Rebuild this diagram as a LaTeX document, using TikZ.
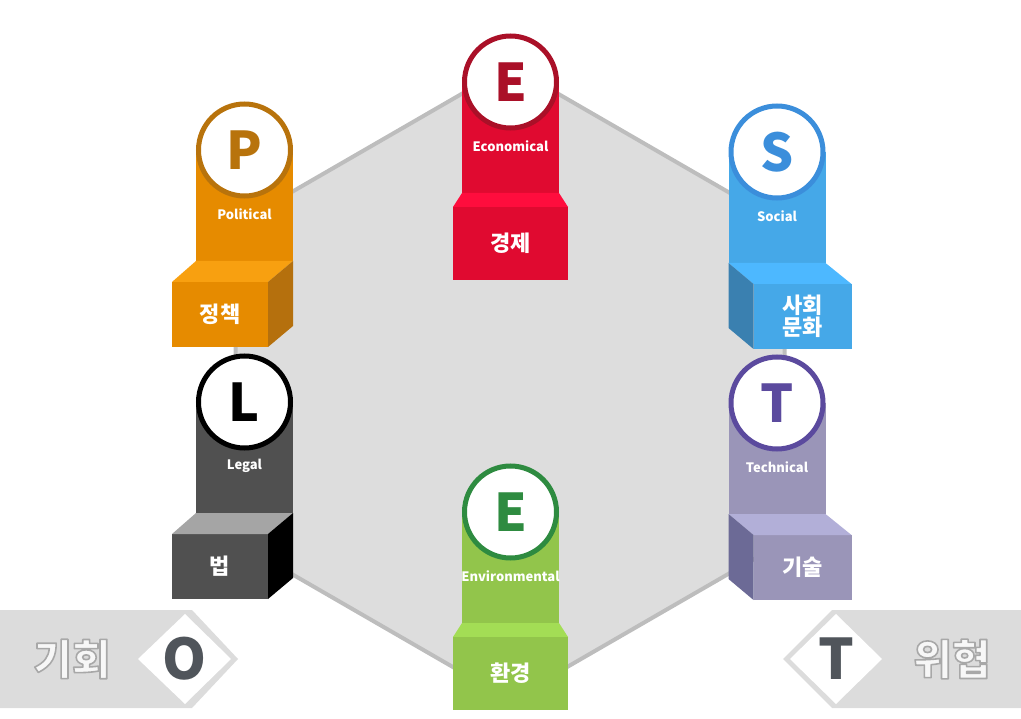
\documentclass[tikz,border=0pt]{standalone}
\usepackage{fontspec}
\setmainfont{Noto Sans CJK KR}
\usetikzlibrary{positioning}

\definecolor{hexFill}{HTML}{DDDDDD}
\definecolor{hexLine}{HTML}{BDBDBD}
\definecolor{bandGray}{HTML}{DCDCDC}
\definecolor{markGray}{HTML}{50555B}
% political
\definecolor{polCol}{HTML}{E68B00}
\definecolor{polTop}{HTML}{F8A010}
\definecolor{polSide}{HTML}{B5700D}
\definecolor{polRing}{HTML}{B8730C}
% economical
\definecolor{ecoCol}{HTML}{E00A30}
\definecolor{ecoTop}{HTML}{FF0D3D}
\definecolor{ecoRing}{HTML}{AA1028}
% social
\definecolor{socCol}{HTML}{45A8E8}
\definecolor{socTop}{HTML}{4DB8FF}
\definecolor{socSide}{HTML}{3A80B0}
\definecolor{socRing}{HTML}{3B8EDB}
% legal
\definecolor{legCol}{HTML}{505050}
\definecolor{legTop}{HTML}{A5A5A5}
\definecolor{legSide}{HTML}{000000}
\definecolor{legRing}{HTML}{000000}
% environmental
\definecolor{envCol}{HTML}{92C54B}
\definecolor{envTop}{HTML}{A3DD55}
\definecolor{envRing}{HTML}{2E8B40}
% technical
\definecolor{tecCol}{HTML}{9A95B8}
\definecolor{tecTop}{HTML}{B2AFD8}
\definecolor{tecSide}{HTML}{6C6A96}
\definecolor{tecRing}{HTML}{5B4A9E}

% outlined white word (fill + gray stroke)
\newcommand{\OutlineWord}[1]{%
    \special{pdf:literal direct 0.66 0.66 0.66 RG 1.6 w 1 j 2 Tr}#1\special{pdf:literal direct 0 Tr}}

\tikzset{
    ring/.style={fill=white, line width=5pt},
    letter/.style={font=\fontsize{52}{52}\selectfont\bfseries, inner sep=0pt},
    engl/.style={font=\fontsize{13}{15}\selectfont\bfseries, text=white, inner sep=0pt},
    kor/.style={font=\fontsize{22}{24}\selectfont\bfseries, text=white, align=center, inner sep=0pt},
    band/.style={fill=bandGray},
    gem/.style={fill=white},
    cornermark/.style={font=\fontsize{56}{56}\selectfont\bfseries, text=markGray, inner sep=0pt},
    side word/.style={font=\fontsize{42}{42}\selectfont\bfseries, text=white!97!black, inner sep=0pt}
}

% pillar with box turned to the right: x, y, prefix, letter, english, korean
\newcommand{\DrawPillarR}[6]{
    \begin{scope}[shift={(#1,#2)}]
        \fill[#3Col] (-48.5,0) rectangle (48.5,111);
        \fill[#3Col] (-72.5,132) rectangle (23.5,197);
        \fill[#3Top] (-72.5,132) -- (-48.5,111) -- (48.5,111) -- (23.5,132) -- cycle;
        \fill[#3Side] (23.5,132) -- (48.5,111) -- (48.5,176) -- (23.5,197) -- cycle;
        \draw[ring, draw=#3Ring] (0,0) circle (46);
        \node[letter, text=#3Ring] (#3-letter) at (0,0) {#4};
        \node[engl] (#3-eng) at (0,64) {#5};
        \node[kor] (#3-kor) at (-24.5,164.5) {#6};
    \end{scope}
}
% pillar with box turned to the left
\newcommand{\DrawPillarL}[6]{
    \begin{scope}[shift={(#1,#2)}]
        \fill[#3Col] (-48.5,0) rectangle (48.5,111);
        \fill[#3Col] (-23.5,132) rectangle (74.5,197);
        \fill[#3Top] (-48.5,111) -- (48.5,111) -- (74.5,132) -- (-23.5,132) -- cycle;
        \fill[#3Side] (-48.5,111) -- (-23.5,132) -- (-23.5,197) -- (-48.5,176) -- cycle;
        \draw[ring, draw=#3Ring] (0,0) circle (46);
        \node[letter, text=#3Ring] (#3-letter) at (0,0) {#4};
        \node[engl] (#3-eng) at (0,64) {#5};
        \node[kor] (#3-kor) at (25.5,164.5) {#6};
    \end{scope}
}
% pillar with box seen from the front
\newcommand{\DrawPillarF}[6]{
    \begin{scope}[shift={(#1,#2)}]
        \fill[#3Col] (-48.5,0) rectangle (48.5,111);
        \fill[#3Top] (-48.5,111) -- (48.5,111) -- (57.5,125) -- (-57.5,125) -- cycle;
        \fill[#3Col] (-57.5,125) rectangle (57.5,198);
        \draw[ring, draw=#3Ring] (0,0) circle (46);
        \node[letter, text=#3Ring] (#3-letter) at (0,0) {#4};
        \node[engl] (#3-eng) at (0,64) {#5};
        \node[kor] (#3-kor) at (0,161.5) {#6};
    \end{scope}
}

\begin{document}
\begin{tikzpicture}[x=1pt, y=-1pt]
    \useasboundingbox (0,0) rectangle (1021,719);

    % hexagon
    \draw[fill=hexFill, draw=hexLine, line width=4pt, line join=round]
        (510,66) -- (784.5,224.5) -- (784.5,541.5) -- (510,700)
        -- (235.5,541.5) -- (235.5,224.5) -- cycle;

    % pillars
    \DrawPillarF{510.5}{82}{eco}{E}{Economical}{경제}
    \DrawPillarR{244.5}{150}{pol}{P}{Political}{정책}
    \DrawPillarL{777}{152}{soc}{S}{Social}{사회\\[-2pt]문화}
    \DrawPillarR{244.5}{402}{leg}{L}{Legal}{법}
    \DrawPillarL{777}{403}{tec}{T}{Technical}{기술}
    \DrawPillarF{510.5}{512}{env}{E}{Environmental}{환경}

    % opportunity
    \fill[band] (0,610) -- (192,610) -- (238,659) -- (192,708) -- (0,708) -- cycle;
    \fill[gem] (138,659) -- (185,614) -- (231,659) -- (185,704) -- cycle;
    \node[cornermark] (oppMark) at (185,659) {O};
    \node[side word] (oppWord) at (72,659) {\OutlineWord{기회}};

    % threat
    \fill[band] (1021,610) -- (832,610) -- (783,659) -- (832,708) -- (1021,708) -- cycle;
    \fill[gem] (790,659) -- (836,614) -- (882,659) -- (836,704) -- cycle;
    \node[cornermark] (thrMark) at (836,659) {T};
    \node[side word] (thrWord) at (952,659) {\OutlineWord{위협}};
\end{tikzpicture}
\end{document}
